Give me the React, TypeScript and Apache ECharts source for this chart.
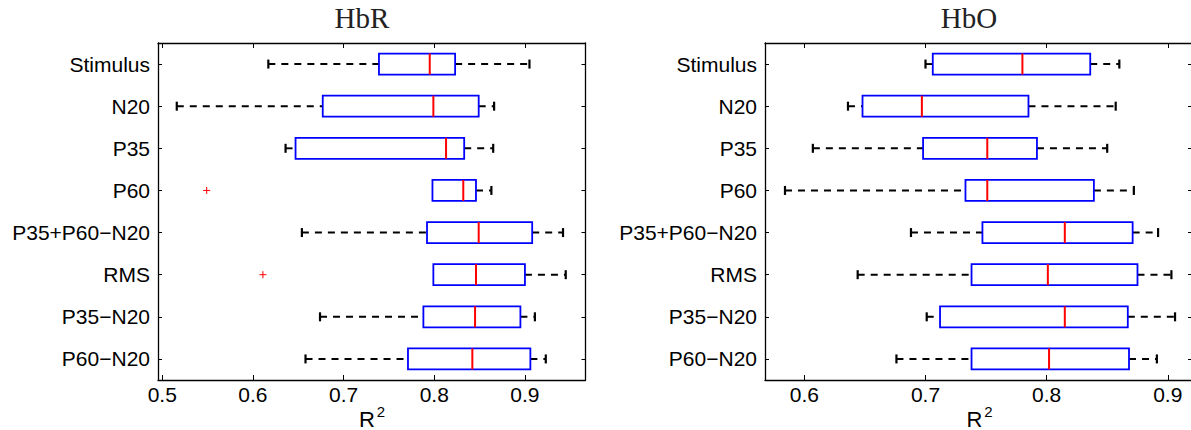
import React, { useEffect, useRef } from "react";
import * as echarts from "echarts";

const categories = ["Stimulus", "N20", "P35", "P60", "P35+P60−N20", "RMS", "P35−N20", "P60−N20"];

// HbR panel
const hbrLow = [0.617, 0.516, 0.636, 0.798, 0.654, 0.799, 0.674, 0.658];
const hbrQ1 = [0.739, 0.677, 0.647, 0.798, 0.792, 0.799, 0.788, 0.771];
const hbrMed = [0.795, 0.799, 0.813, 0.832, 0.849, 0.846, 0.845, 0.842];
const hbrQ3 = [0.823, 0.849, 0.833, 0.846, 0.908, 0.900, 0.895, 0.906];
const hbrHigh = [0.905, 0.866, 0.865, 0.863, 0.942, 0.945, 0.911, 0.923];
const hbrOutliers: [string, number][] = [["P60", 0.549], ["RMS", 0.611]];

// HbO panel
const hboLow = [0.700, 0.636, 0.607, 0.584, 0.688, 0.644, 0.701, 0.676];
const hboQ1 = [0.706, 0.648, 0.698, 0.733, 0.747, 0.738, 0.712, 0.738];
const hboMed = [0.780, 0.697, 0.751, 0.751, 0.815, 0.801, 0.815, 0.802];
const hboQ3 = [0.836, 0.785, 0.792, 0.839, 0.871, 0.875, 0.867, 0.868];
const hboHigh = [0.860, 0.857, 0.850, 0.872, 0.892, 0.903, 0.906, 0.891];
const hboOutliers: [string, number][] = [];

const titles = ["HbR", "HbO"];
const xNameBase = "R";
const xNameSup = "2";

const FONT = "'Liberation Sans', Arial, Helvetica, sans-serif";

function renderBox(params: any, api: any) {
  const idx = api.value(0);
  const low = api.value(1);
  const q1 = api.value(2);
  const med = api.value(3);
  const q3 = api.value(4);
  const high = api.value(5);
  const pLow = api.coord([low, idx]);
  const pQ1 = api.coord([q1, idx]);
  const pMed = api.coord([med, idx]);
  const pQ3 = api.coord([q3, idx]);
  const pHigh = api.coord([high, idx]);
  const band = api.size([0, 1])[1];
  const h = band * 0.5;
  const cy = pMed[1];
  const capH = 9;
  const children: any[] = [];
  const whisk = { stroke: "#000", lineWidth: 1.9, lineDash: [7, 6], fill: "none" };
  const cap = { stroke: "#000", lineWidth: 2.2, fill: "none" };
  if (pLow[0] < pQ1[0] - 0.5) {
    children.push({ type: "line", shape: { x1: pLow[0], y1: cy, x2: pQ1[0], y2: cy }, style: whisk });
    children.push({ type: "line", shape: { x1: pLow[0], y1: cy - capH / 2, x2: pLow[0], y2: cy + capH / 2 }, style: cap });
  }
  if (pHigh[0] > pQ3[0] + 0.5) {
    children.push({ type: "line", shape: { x1: pQ3[0], y1: cy, x2: pHigh[0], y2: cy }, style: whisk });
    children.push({ type: "line", shape: { x1: pHigh[0], y1: cy - capH / 2, x2: pHigh[0], y2: cy + capH / 2 }, style: cap });
  }
  children.push({
    type: "rect",
    shape: { x: pQ1[0], y: cy - h / 2, width: pQ3[0] - pQ1[0], height: h },
    style: { stroke: "#0000ff", lineWidth: 1.8, fill: "none" },
  });
  children.push({
    type: "line",
    shape: { x1: pMed[0], y1: cy - h / 2, x2: pMed[0], y2: cy + h / 2 },
    style: { stroke: "#ff0000", lineWidth: 2, fill: "none" },
  });
  return { type: "group", children };
}

function renderOutlier(params: any, api: any) {
  const idx = api.value(0);
  const v = api.value(1);
  const p = api.coord([v, idx]);
  const s = 3.5;
  const st = { stroke: "#ff0000", lineWidth: 1, fill: "none" };
  return {
    type: "group",
    children: [
      { type: "line", shape: { x1: p[0] - s, y1: p[1], x2: p[0] + s, y2: p[1] }, style: st },
      { type: "line", shape: { x1: p[0], y1: p[1] - s, x2: p[0], y2: p[1] + s }, style: st },
    ],
  };
}

const labelFmt = (v: number) => (Math.abs(v * 10 - Math.round(v * 10)) < 1e-6 ? v.toFixed(1) : "");

function makeX(g: number, min: number, max: number, bottom: boolean) {
  return {
    type: "value",
    gridIndex: g,
    min,
    max,
    splitNumber: 4,
    position: bottom ? "bottom" : "top",
    axisLine: { show: true, onZero: false, lineStyle: { color: "#000", width: 1.3 } },
    axisTick: { show: true, inside: true, length: 5, lineStyle: { color: "#000", width: 1 } },
    axisLabel: {
      show: bottom,
      color: "#000",
      fontSize: 21,
      fontFamily: FONT,
      margin: 4,
      formatter: labelFmt,
      showMinLabel: true,
      showMaxLabel: true,
    },
    splitLine: { show: false },
  };
}

function makeY(g: number, left: boolean) {
  return {
    type: "category",
    gridIndex: g,
    data: categories,
    inverse: true,
    position: left ? "left" : "right",
    axisLine: { show: true, onZero: false, lineStyle: { color: "#000", width: 1.3 } },
    axisTick: { show: true, inside: true, alignWithLabel: true, length: 4, lineStyle: { color: "#000", width: 1 } },
    axisLabel: { show: left, color: "#000", fontSize: 21, fontFamily: FONT, margin: 8 },
    splitLine: { show: false },
  };
}

function boxData(low: number[], q1: number[], med: number[], q3: number[], high: number[]) {
  return categories.map((_, i) => [i, low[i], q1[i], med[i], q3[i], high[i]]);
}

function outData(list: [string, number][]) {
  return list.map(([c, v]) => [categories.indexOf(c), v]);
}

export default function App() {
  const ref = useRef<HTMLDivElement>(null);
  useEffect(() => {
    if (!ref.current) return;
    const chart = echarts.init(ref.current, null, { renderer: "svg" });
    const txt = (t: string, font: string, fill: string) => ({
      text: t,
      font,
      fill,
      textAlign: "center",
      textVerticalAlign: "middle",
      align: "center",
      verticalAlign: "middle",
    });
    const titleFont = "29px 'Liberation Serif', 'Times New Roman', serif";
    const rFont = "22px 'Liberation Sans', Arial, sans-serif";
    const supFont = "15px 'Liberation Sans', Arial, sans-serif";
    const option: any = {
      animation: false,
      backgroundColor: "#fff",
      grid: [
        { left: 158, top: 43, width: 427.5, height: 337, outerBoundsMode: "none", containLabel: false },
        { left: 765, top: 43, width: 427, height: 337, outerBoundsMode: "none", containLabel: false },
      ],
      xAxis: [
        makeX(0, 0.4953, 0.9668, true),
        makeX(0, 0.4953, 0.9668, false),
        makeX(1, 0.5675, 0.92, true),
        makeX(1, 0.5675, 0.92, false),
      ],
      yAxis: [makeY(0, true), makeY(0, false), makeY(1, true), makeY(1, false)],
      graphic: [
        { type: "text", x: 362, y: 17.5, style: txt(titles[0], titleFont, "#222") },
        { type: "text", x: 969, y: 17.5, style: txt(titles[1], titleFont, "#222") },
        { type: "text", x: 367, y: 419, style: txt(xNameBase, rFont, "#000") },
        { type: "text", x: 381, y: 411, style: txt(xNameSup, supFont, "#000") },
        { type: "text", x: 974.5, y: 419, style: txt(xNameBase, rFont, "#000") },
        { type: "text", x: 988.5, y: 411, style: txt(xNameSup, supFont, "#000") },
      ],
      series: [
        {
          type: "custom",
          xAxisIndex: 0,
          yAxisIndex: 0,
          renderItem: renderBox,
          encode: { x: [1, 2, 3, 4, 5], y: 0 },
          data: boxData(hbrLow, hbrQ1, hbrMed, hbrQ3, hbrHigh),
          z: 5,
        },
        {
          type: "custom",
          xAxisIndex: 0,
          yAxisIndex: 0,
          renderItem: renderOutlier,
          encode: { x: 1, y: 0 },
          data: outData(hbrOutliers),
          z: 5,
        },
        {
          type: "custom",
          xAxisIndex: 2,
          yAxisIndex: 2,
          renderItem: renderBox,
          encode: { x: [1, 2, 3, 4, 5], y: 0 },
          data: boxData(hboLow, hboQ1, hboMed, hboQ3, hboHigh),
          z: 5,
        },
        {
          type: "custom",
          xAxisIndex: 2,
          yAxisIndex: 2,
          renderItem: renderOutlier,
          encode: { x: 1, y: 0 },
          data: outData(hboOutliers),
          z: 5,
        },
      ],
    };
    chart.setOption(option);
    return () => chart.dispose();
  }, []);
  return (
    <div
      ref={ref}
      style={{ position: "absolute", left: 0, top: 0, width: 1191, height: 430 }}
    />
  );
}
